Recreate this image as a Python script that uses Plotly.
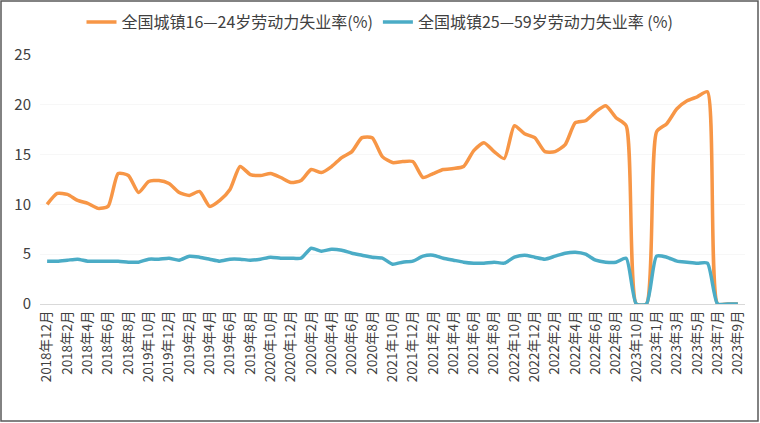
import plotly.graph_objects as go

# x categories, in the (string-sorted) order the source sheet used
months = ["2018年12月", "2018年1月", "2018年2月", "2018年3月", "2018年4月", "2018年5月",
          "2018年6月", "2018年7月", "2018年8月", "2018年9月",
          "2019年10月", "2019年11月", "2019年12月", "2019年1月", "2019年2月", "2019年3月",
          "2019年4月", "2019年5月", "2019年6月", "2019年7月", "2019年8月", "2019年9月",
          "2020年10月", "2020年11月", "2020年12月", "2020年1月", "2020年2月", "2020年3月",
          "2020年4月", "2020年5月", "2020年6月", "2020年7月", "2020年8月", "2020年9月",
          "2021年10月", "2021年11月", "2021年12月", "2021年1月", "2021年2月", "2021年3月",
          "2021年4月", "2021年5月", "2021年6月", "2021年7月", "2021年8月", "2021年9月",
          "2022年10月", "2022年11月", "2022年12月", "2022年1月", "2022年2月", "2022年3月",
          "2022年4月", "2022年5月", "2022年6月", "2022年7月", "2022年8月", "2022年9月",
          "2023年10月", "2023年11月", "2023年1月", "2023年2月", "2023年3月",
          "2023年4月", "2023年5月", "2023年6月", "2023年7月", "2023年8月", "2023年9月"]

youth_16_24 = [10.0, 11.1, 11.0, 10.4, 10.1, 9.6, 9.8, 13.1, 12.9, 11.2,
               12.3, 12.4, 12.1, 11.2, 10.9, 11.3, 9.8, 10.4, 11.5, 13.8, 13.0, 12.9,
               13.1, 12.7, 12.2, 12.4, 13.5, 13.2, 13.8, 14.7, 15.3, 16.7, 16.7, 14.8,
               14.2, 14.3, 14.3, 12.7, 13.1, 13.5, 13.6, 13.8, 15.4, 16.2, 15.3, 14.6,
               17.9, 17.1, 16.7, 15.3, 15.3, 16.0, 18.2, 18.4, 19.3, 19.9, 18.7, 17.9,
               0, 0, 17.3, 18.1, 19.6, 20.4, 20.8, 21.3, 0, 0, 0]

adult_25_59 = [4.3, 4.3, 4.4, 4.5, 4.3, 4.3, 4.3, 4.3, 4.2, 4.2,
               4.5, 4.5, 4.6, 4.4, 4.8, 4.7, 4.5, 4.3, 4.5, 4.5, 4.4, 4.5,
               4.7, 4.6, 4.6, 4.6, 5.6, 5.3, 5.5, 5.4, 5.1, 4.9, 4.7, 4.6,
               4.0, 4.2, 4.3, 4.8, 4.9, 4.6, 4.4, 4.2, 4.1, 4.1, 4.2, 4.1,
               4.7, 4.9, 4.7, 4.5, 4.8, 5.1, 5.2, 5.0, 4.4, 4.2, 4.2, 4.6,
               0, 0, 4.8, 4.7, 4.3, 4.2, 4.1, 4.1, 0, 0, 0]

series_names = ["全国城镇16—24岁劳动力失业率(%)", "全国城镇25—59岁劳动力失业率 (%)"]
colors = ["#F79646", "#4BACC6"]

font_family = "Noto Sans CJK SC, Noto Sans, sans-serif"

fig = go.Figure()
for name, vals, col in zip(series_names, [youth_16_24, adult_25_59], colors):
    fig.add_trace(go.Scatter(x=months, y=vals, name=name, mode="lines",
                             line=dict(color=col, width=3.5, shape="spline", smoothing=0.6)))

# outer frame of the picture (plot area is 705 x 249 px, at l=40, t=55)
fig.add_shape(type="rect", xref="paper", yref="paper",
              x0=-39 / 705, x1=718 / 705, y0=-117 / 249, y1=303 / 249,
              line=dict(color="#595959", width=1.5), layer="below")

fig.update_layout(
    width=760, height=423,
    margin=dict(l=40, r=15, t=55, b=119, autoexpand=False),
    plot_bgcolor="white", paper_bgcolor="white",
    font=dict(family=font_family, color="#404040"),
    legend=dict(orientation="h", xref="container", x=0.5, xanchor="center",
                yref="container", y=1 - 22 / 423, yanchor="middle",
                font=dict(size=16, color="#404040"), itemwidth=30, tracegroupgap=0),
    showlegend=True,
)
fig.update_xaxes(type="category", range=[-0.7, 68.7],
                 tickmode="array", tickvals=months[::2], ticktext=months[::2],
                 tickangle=-90, tickfont=dict(size=13.5, color="#404040"),
                 showgrid=False, showline=True, linecolor="#d9d9d9", linewidth=1,
                 ticks="")
fig.update_yaxes(range=[0, 25], dtick=5, tickfont=dict(size=15, color="#404040"),
                 showgrid=True, gridcolor="#f7f7f7", zeroline=False,
                 ticks="", ticklabelstandoff=8)

# page body has a default margin; drop it so the figure sits at the window corner
fig.write_html("out.html", config={"displayModeBar": False},
               post_script="document.body.style.margin='0';")
